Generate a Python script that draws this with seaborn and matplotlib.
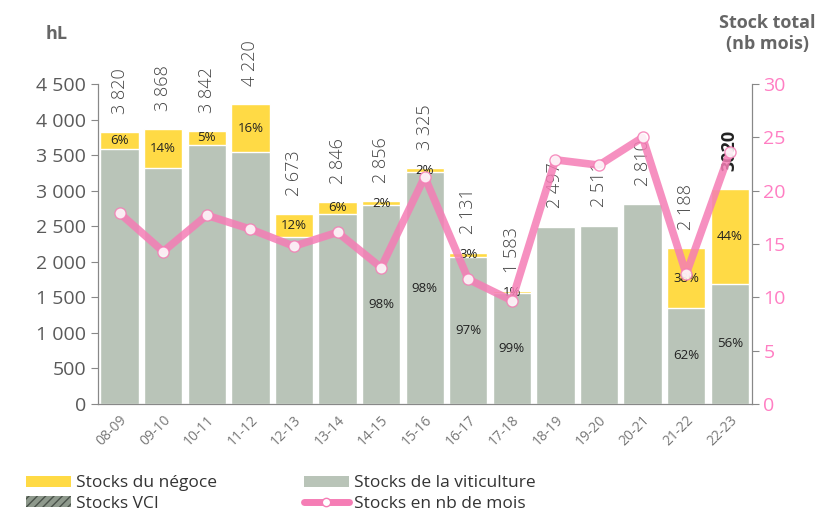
import numpy as np
import pandas as pd
import matplotlib
matplotlib.use("Agg")
import matplotlib.pyplot as plt
import seaborn as sns
from matplotlib.patches import Patch
from matplotlib.lines import Line2D

# Données
campagnes = ['08-09', '09-10', '10-11', '11-12', '12-13', '13-14', '14-15', '15-16',
             '16-17', '17-18', '18-19', '19-20', '20-21', '21-22', '22-23']
stock_total = [3820, 3868, 3842, 4220, 2673, 2846, 2856, 3325, 2131, 1583, 2497, 2511, 2810, 2188, 3020]
part_negoce = [6, 14, 5, 16, 12, 6, 2, 2, 3, 1, 0, 0, 0, 38, 44]
label_viti = [False, False, False, False, False, False, True, True, True, True, False, False, False, True, True]
nb_mois = [17.9, 14.3, 17.7, 16.4, 14.8, 16.1, 12.8, 21.3, 11.7, 9.7, 22.9, 22.4, 25.0, 12.2, 23.6]

JAUNE = '#FFDA45'
GRIS = '#B9C4B8'
ROSE = '#F57DB5'
TEXTE = '#5A5A5A'

df = pd.DataFrame({'campagne': campagnes, 'total': stock_total,
                   'negoce_pct': part_negoce, 'mois': nb_mois})
df['viti'] = df['total'] * (100 - df['negoce_pct']) / 100

sns.set_style('white')
plt.rcParams['font.family'] = ['Open Sans', 'DejaVu Sans']

fig = plt.figure(figsize=(8.36, 5.16), dpi=100)
ax = fig.add_axes([0.117, 0.217, 0.782, 0.620])

# Barres empilées : total (négoce) puis viticulture par-dessus
sns.barplot(data=df, x='campagne', y='total', color=JAUNE, width=0.88,
            saturation=1, ax=ax, zorder=2)
sns.barplot(data=df, x='campagne', y='viti', color=GRIS, width=0.88,
            saturation=1, ax=ax, zorder=2)

for i, row in df.iterrows():
    dernier = i == len(df) - 1
    txt = '3020' if dernier else f"{row['total']:,}".replace(',', ' ')
    ax.annotate(txt, (i, row['total']), xytext=(0, 13), textcoords='offset points',
                rotation=90, ha='center', va='bottom', fontsize=13,
                color='#222222' if dernier else '#444444',
                fontweight='bold' if dernier else 'light')
    if row['negoce_pct'] > 0:
        ymid = (row['viti'] + row['total']) / 2
        ax.text(i, ymid, f"{row['negoce_pct']}%", ha='center', va='center',
                fontsize=9.5, color='#222222', zorder=5)
    if label_viti[i]:
        ax.text(i, row['viti'] / 2, f"{100 - row['negoce_pct']}%", ha='center',
                va='center', fontsize=9.5, color='#222222', zorder=5)

ax.set_ylim(0, 4500)
ax.set_xlim(-0.5, len(df) - 0.5)
ax.set_yticks(np.arange(0, 4501, 500))
ax.set_yticklabels([f"{v:,}".replace(',', ' ') for v in range(0, 4501, 500)],
                   fontsize=14, color=TEXTE)
ax.set_xlabel('')
ax.set_ylabel('')
ax.set_xticks(range(len(df)))
ax.set_xticklabels(campagnes, rotation=45, ha='right', rotation_mode='anchor',
                   fontsize=10, color='#777777')
ax.set_xticks(np.arange(-0.5, len(df), 1), minor=True)
ax.tick_params(axis='x', which='major', length=0, pad=6)
ax.tick_params(axis='x', which='minor', length=5, color='#888888', direction='out')
ax.tick_params(axis='y', length=5, color='#888888', direction='out', left=True)
for s in ['left', 'bottom', 'right']:
    ax.spines[s].set_color('#888888')
ax.spines['top'].set_visible(False)

# Axe secondaire : stock en nombre de mois
ax2 = ax.twinx()
sns.lineplot(x=np.arange(len(df)), y=df['mois'], ax=ax2, color=ROSE, lw=5.5,
             alpha=0.85, marker='o', markersize=8, markerfacecolor='white',
             markeredgecolor=ROSE, markeredgewidth=1, zorder=4)
ax2.set_ylim(0, 30)
ax2.set_yticks(range(0, 31, 5))
ax2.set_yticklabels([str(v) for v in range(0, 31, 5)], fontsize=14, color='#FF7EC3')
ax2.set_ylabel('')
ax2.tick_params(axis='y', length=5, color='#888888', direction='out', right=True)
for s in ['left', 'bottom', 'right']:
    ax2.spines[s].set_color('#888888')
ax2.spines['top'].set_visible(False)

fig.text(0.055, 0.935, 'hL', fontsize=13, fontweight='bold', color='#666666',
         ha='left', va='center')
fig.text(0.918, 0.935, 'Stock total\n(nb mois)', fontsize=13, fontweight='bold',
         color='#666666', ha='center', va='center', linespacing=1.2)

handles = [Patch(facecolor=JAUNE, edgecolor='none'),
           Patch(facecolor='#8E998C', edgecolor='#4A524A', hatch='////', lw=0),
           Patch(facecolor=GRIS, edgecolor='none'),
           Line2D([0], [0], color=ROSE, lw=5, marker='o', markersize=6,
                  markerfacecolor='white', markeredgecolor=ROSE)]
labels = ['Stocks du négoce', 'Stocks VCI', 'Stocks de la viticulture',
          'Stocks en nb de mois']
fig.legend(handles, labels, ncol=2, loc='lower left', bbox_to_anchor=(0.012, -0.022),
           frameon=False, fontsize=12.5, handlelength=2.6, handleheight=0.6,
           columnspacing=5.0, labelspacing=0.25, handletextpad=0.3,
           labelcolor='#333333')

fig.savefig('out.png', dpi=100)
